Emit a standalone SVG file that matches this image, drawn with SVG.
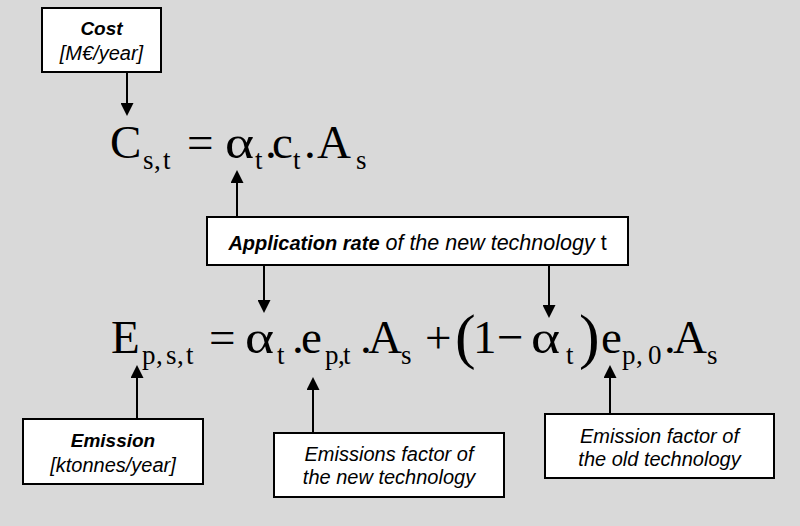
<svg xmlns="http://www.w3.org/2000/svg" width="800" height="526" viewBox="0 0 800 526">
<defs>
<style>
.box{fill:#ffffff;stroke:#000000;stroke-width:2}
.lbl{font-family:"Liberation Sans",Arial,sans-serif;font-size:20px;fill:#000;text-anchor:middle}
.b{font-weight:bold;font-style:italic}
.sb{font-size:19px}
.i{font-style:italic}
.eq{font-family:"Liberation Serif","Times New Roman",serif;font-size:47px;fill:#000}
.sub{font-size:27px}
.par{font-size:62px}
.conn{stroke:#000;stroke-width:2;fill:none;marker-end:url(#ah)}
</style>
<marker id="ah" markerUnits="userSpaceOnUse" markerWidth="14" markerHeight="13" refX="1" refY="6.5" orient="auto">
<path d="M0,0 L13,6.5 L0,13 z" fill="#000"/>
</marker>
</defs>
<rect x="0" y="0" width="800" height="526" fill="#d9d9d9"/>

<g id="eq-cost">
<text class="eq" y="158"><tspan x="110">C</tspan><tspan class="sub" x="143" y="169">s</tspan><tspan class="sub" x="154" y="169">,</tspan><tspan class="sub" x="163" y="169">t</tspan><tspan x="187" y="158">=</tspan><tspan class="sub" x="255" y="169">t</tspan><tspan x="265" y="158">.</tspan><tspan x="272" y="158">c</tspan><tspan class="sub" x="293" y="169">t</tspan><tspan x="304" y="158">.</tspan><tspan x="317" y="158">A</tspan><tspan class="sub" x="356" y="169">s</tspan></text>
<text class="eq" transform="translate(225,158) scale(1.18,1)">α</text>
</g>

<g id="eq-emission">
<text class="eq" y="353"><tspan x="111">E</tspan><tspan class="sub" x="142" y="364">p</tspan><tspan class="sub" x="156" y="364">,</tspan><tspan class="sub" x="166" y="364">s</tspan><tspan class="sub" x="177" y="364">,</tspan><tspan class="sub" x="186" y="364">t</tspan><tspan x="209" y="353">=</tspan><tspan class="sub" x="277" y="364">t</tspan><tspan x="292" y="353">.</tspan><tspan x="301" y="353">e</tspan><tspan class="sub" x="325" y="364">p</tspan><tspan class="sub" x="338" y="364">,</tspan><tspan class="sub" x="343" y="364">t</tspan><tspan x="360" y="353">.</tspan><tspan x="368" y="353">A</tspan><tspan class="sub" x="401" y="364">s</tspan><tspan x="425" y="353">+</tspan><tspan class="par" x="455" y="357">(</tspan><tspan x="473" y="353">1</tspan><tspan x="497" y="353">−</tspan><tspan class="sub" x="566" y="364">t</tspan><tspan class="par" x="579" y="357">)</tspan><tspan x="601" y="353">e</tspan><tspan class="sub" x="622" y="364">p</tspan><tspan class="sub" x="636" y="364">,</tspan><tspan class="sub" x="648" y="364">0</tspan><tspan x="664" y="353">.</tspan><tspan x="673" y="353">A</tspan><tspan class="sub" x="707" y="364">s</tspan></text>
<text class="eq" transform="translate(245,353) scale(1.18,1)">α</text>
<text class="eq" transform="translate(531,353) scale(1.18,1)">α</text>
</g>

<g id="cost">
<rect class="box" x="42" y="8" width="119" height="64"/>
<text class="lbl b sb" x="101.5" y="35">Cost</text>
<text class="lbl i" x="101.5" y="60">[M€/year]</text>
</g>

<g id="application-rate">
<rect class="box" x="207" y="217" width="421" height="48"/>
<text class="lbl" x="417.5" y="250"><tspan class="b">Application rate</tspan><tspan class="i" font-size="21.5"> of the new technology </tspan><tspan font-size="21.5">t</tspan></text>
</g>

<g id="emission">
<rect class="box" x="23" y="419" width="180" height="65"/>
<text class="lbl b sb" x="113" y="447">Emission</text>
<text class="lbl i" x="113" y="472" font-size="21">[ktonnes/year]</text>
</g>

<g id="new-factor">
<rect class="box" x="274" y="433" width="230" height="64"/>
<text class="lbl i" x="389" y="461">Emissions factor of</text>
<text class="lbl i" x="389" y="484">the new technology</text>
</g>

<g id="old-factor">
<rect class="box" x="545" y="414" width="229" height="64"/>
<text class="lbl i" x="659.5" y="443">Emission factor of</text>
<text class="lbl i" x="659.5" y="466">the old technology</text>
</g>

<g id="connectors">
<line class="conn" x1="127" y1="72" x2="127" y2="104"/>
<line class="conn" x1="237" y1="217" x2="237" y2="182"/>
<line class="conn" x1="264" y1="265" x2="264" y2="301"/>
<line class="conn" x1="549" y1="265" x2="549" y2="306"/>
<line class="conn" x1="137" y1="419" x2="137" y2="377"/>
<line class="conn" x1="313" y1="433" x2="313" y2="389"/>
<line class="conn" x1="610" y1="414" x2="610" y2="377"/>
</g>
</svg>
